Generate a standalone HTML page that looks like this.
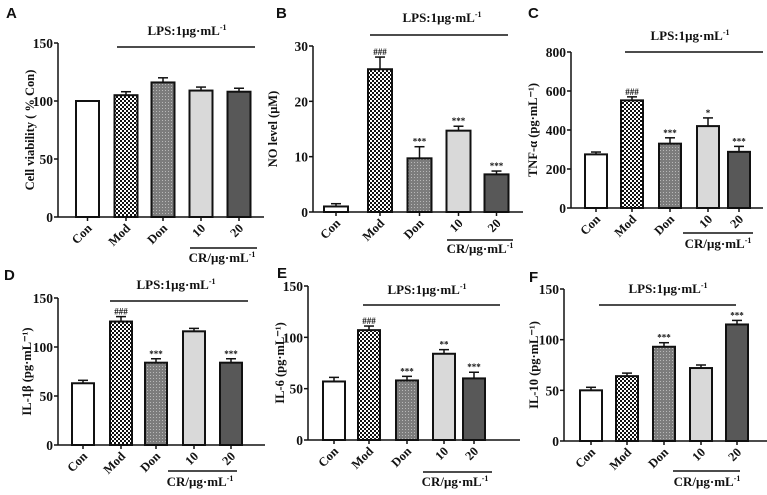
<!DOCTYPE html>
<html><head><meta charset="utf-8"><style>
body{margin:0;background:#fff}
svg{display:block}
text{font-family:"Liberation Serif",serif;font-weight:bold;fill:#111}
.let{font-family:"Liberation Sans",sans-serif;font-size:15px}
</style></head><body>
<svg id="fig" width="767" height="495" viewBox="0 0 767 495">
<defs>
<pattern id="chk" width="4" height="4" patternUnits="userSpaceOnUse"><rect width="4" height="4" fill="#fff"/><rect width="2" height="2" fill="#111"/><rect x="2" y="2" width="2" height="2" fill="#111"/></pattern>
<pattern id="dot" width="3" height="3" patternUnits="userSpaceOnUse"><rect width="3" height="3" fill="#7c7c7c"/><rect width="1" height="1" fill="#b8b8b8"/></pattern>
</defs>
</svg>
<script>
const categories=["Con","Mod","Don","10","20"];
const valsA=[100,105,116,109,108], errA=[0,3,4,3,3], annA=["","","","",""];
const valsB=[1,25.8,9.7,14.7,6.8], errB=[0.5,2.2,2.1,0.8,0.6], annB=["","###","***","***","***"];
const valsC=[275,552,330,420,288], errC=[12,18,30,42,28], annC=["","###","***","*","***"];
const valsD=[63,126,84,116,84], errD=[3,5,4,3,4], annD=["","###","***","","***"];
const valsE=[57,107,58,84,60], errE=[4,4,4,4,6], annE=["","###","***","**","***"];
const valsF=[50,64,93,72,115], errF=[3,3,4,3,4], annF=["","","***","","***"];
const ticksA=[0,50,100,150], ticksB=[0,10,20,30], ticksC=[0,200,400,600,800], ticks150=[0,50,100,150];
const fills=["#fff","url(#chk)","url(#dot)","#d9d9d9","#585858"];
const panels=[
{id:"a",letter:"A",lx:6,ly:18,vals:valsA,err:errA,ann:annA,ticks:ticksA,max:150,ax:58,y0:217,y1:43,xe:264,cx:[87.5,126,163,201,239],bw:23,lps:[117,255,47],lpsT:[187,35],cr:[190,257,248],crT:[222,262],yl:"Cell viability ( % Con)",ylx:34},
{id:"b",letter:"B",lx:276,ly:18,vals:valsB,err:errB,ann:annB,ticks:ticksB,max:30,ax:313,y0:212,y1:46,xe:523,cx:[336,380,419.5,458.5,496.5],bw:24,lps:[370,508,35],lpsT:[442,22],cr:[447,513,240],crT:[480,253],yl:"NO level (μM)",ylx:277},
{id:"c",letter:"C",lx:528,ly:18,vals:valsC,err:errC,ann:annC,ticks:ticksC,max:800,ax:571,y0:208,y1:52,xe:763,cx:[596,632,670,708,739],bw:22,lps:[625,763,52],lpsT:[690,40],cr:[683,753,233],crT:[718,248],yl:"TNF-α (pg·mL⁻¹)",ylx:537},
{id:"d",letter:"D",lx:4,ly:280,vals:valsD,err:errD,ann:annD,ticks:ticks150,max:150,ax:58,y0:445,y1:298,xe:265,cx:[83,121,156,194,231],bw:22,lps:[110,248,301],lpsT:[176,289],cr:[168,237,471],crT:[200,486],yl:"IL-1β (pg·mL⁻¹)",ylx:31},
{id:"e",letter:"E",lx:277,ly:278,vals:valsE,err:errE,ann:annE,ticks:ticks150,max:150,ax:308,y0:440,y1:286,xe:520,cx:[334,369,407,444,474],bw:22,lps:[363,500,305],lpsT:[427,294],cr:[423,492,472],crT:[455,486],yl:"IL-6 (pg·mL⁻¹)",ylx:284},
{id:"f",letter:"F",lx:529,ly:282,vals:valsF,err:errF,ann:annF,ticks:ticks150,max:150,ax:564,y0:441,y1:289,xe:767,cx:[591,627,664,701,737],bw:22,lps:[599,736,305],lpsT:[668,293],cr:[673,740,471],crT:[707,486],yl:"IL-10 (pg·mL⁻¹)",ylx:538}
];
const NS="http://www.w3.org/2000/svg",svg=document.getElementById("fig");
function mk(tag,at,parent,txt){const e=document.createElementNS(NS,tag);for(const k in at)e.setAttribute(k,at[k]);if(txt!==undefined)e.textContent=txt;parent.appendChild(e);return e;}
panels.forEach(p=>{
 const g=mk("g",{},svg);
 
 
 const ys=v=>p.y0-(v/p.max)*(p.y0-p.y1);
 const lt=mk("text",{x:p.lx,y:p.ly,class:"let","font-size":15},g,p.letter);
 
 
 const ya=mk("line",{x1:p.ax,y1:p.y0,x2:p.ax,y2:p.y1,stroke:"#111","stroke-width":1.5},g);
 
 
 p.ticks.forEach(t=>{
  mk("line",{x1:p.ax-4,y1:ys(t),x2:p.ax,y2:ys(t),stroke:"#111","stroke-width":1.5},g);
  const tl=mk("text",{x:p.ax-5,y:ys(t)+5,"text-anchor":"end","font-size":13.5},g,t);
  
  
 });
 const yt=mk("text",{x:0,y:0,"text-anchor":"middle","font-size":12.5,transform:`translate(${p.ylx},${(p.y0+p.y1)/2}) rotate(-90)`},g,p.yl);
 
 
 p.vals.forEach((v,i)=>{
  const x=p.cx[i]-p.bw/2,top=ys(v);
  const et=ys(v+p.err[i]);
  if(p.err[i]>0){mk("line",{x1:p.cx[i],y1:top,x2:p.cx[i],y2:et,stroke:"#111","stroke-width":1.5},g);
   mk("line",{x1:p.cx[i]-5,y1:et,x2:p.cx[i]+5,y2:et,stroke:"#111","stroke-width":1.5},g);}
  const b=mk("rect",{x:x,y:top,width:p.bw,height:p.y0-top,fill:fills[i],stroke:"#111","stroke-width":2},g);
  
  
  if(p.ann[i]){const a=mk("text",{x:p.cx[i],y:et-2,"text-anchor":"middle","font-size":9,fill:"#444","font-weight":"normal"},g,p.ann[i]);
   
   }
  mk("line",{x1:p.cx[i],y1:p.y0,x2:p.cx[i],y2:p.y0+4,stroke:"#111","stroke-width":1.5},g);
  const cl=mk("text",{x:0,y:0,"text-anchor":"end","font-size":12.5,transform:`translate(${p.cx[i]+5},${p.y0+12}) rotate(-45)`},g,categories[i]);
  
  
 });
 const xa=mk("line",{x1:p.ax,y1:p.y0,x2:p.xe,y2:p.y0,stroke:"#111","stroke-width":1.5},g);
 
 
 const ll=mk("line",{x1:p.lps[0],y1:p.lps[2],x2:p.lps[1],y2:p.lps[2],stroke:"#111","stroke-width":1.5},g);
 
 
 const lpt=mk("text",{x:p.lpsT[0],y:p.lpsT[1],"text-anchor":"middle","font-size":13},g);
 lpt.innerHTML='LPS:1μg·mL<tspan font-size="8" dy="-5">-1</tspan>';
 
 
 const cr=mk("line",{x1:p.cr[0],y1:p.cr[2],x2:p.cr[1],y2:p.cr[2],stroke:"#111","stroke-width":1.5},g);
 
 
 const crt=mk("text",{x:p.crT[0],y:p.crT[1],"text-anchor":"middle","font-size":13},g);
 crt.innerHTML='CR/μg·mL<tspan font-size="8" dy="-5">-1</tspan>';
 
 
});
</script>
</body></html>
